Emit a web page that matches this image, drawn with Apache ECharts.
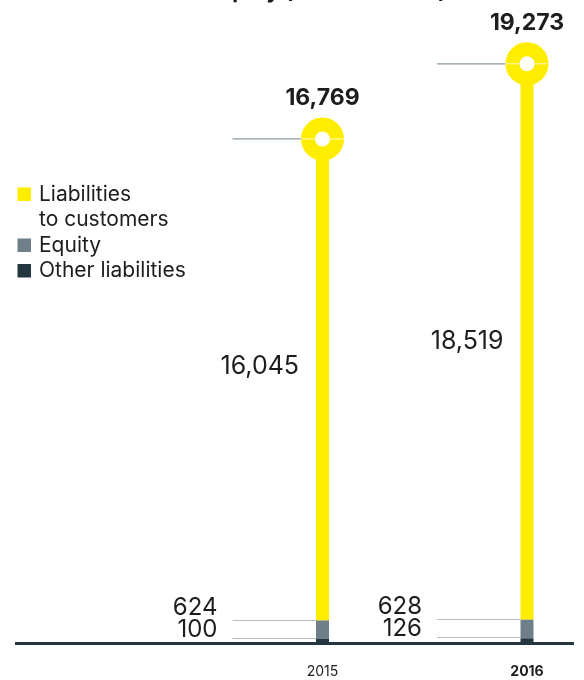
<!DOCTYPE html>
<html>
<head>
<meta charset="utf-8">
<script src="https://cdn.jsdelivr.net/npm/echarts@6/dist/echarts.min.js"></script>
<style>
  html, body { margin: 0; padding: 0; background: #ffffff; }
  #chart { width: 584px; height: 680px; }
</style>
</head>
<body>
<div id="chart"></div>
<script>
// Balance sheet structure, EUR million
const years = ['2015', '2016'];
const customerLiabilities = [16045, 18519];
const equity = [624, 628];
const otherLiabilities = [100, 126];
const totals = [16769, 19273];

const seriesNames = ['Liabilities to customers', 'Equity', 'Other liabilities'];
const legendLabels = ['Liabilities\nto customers', 'Equity', 'Other liabilities'];

const YELLOW = '#FFED00';
const GREY = '#6E7F8A';
const DARK = '#243741';
const TEXT = '#1d1d1b';
const FONT = 'Inter';

const fmt = v => v.toLocaleString('en-US');

const chart = echarts.init(document.getElementById('chart'), null, { renderer: 'canvas' });

// Legend drawn as a small block of graphics, icon aligned with the first text line
const legendColors = [YELLOW, GREY, DARK];
const legendGraphics = [];
let lineY = 194.5;
legendLabels.forEach((label, i) => {
  legendGraphics.push({
    type: 'rect',
    shape: { x: 17.5, y: lineY - 7, width: 13.5, height: 13.5 },
    style: { fill: legendColors[i] }
  });
  legendGraphics.push({
    type: 'text',
    style: {
      x: 39, y: lineY - 12.75,
      text: label,
      font: '21px ' + FONT,
      fill: TEXT,
      lineHeight: 25.5,
      verticalAlign: 'top'
    }
  });
  lineY += 25.5 * label.split('\n').length;
});

const RING = 43;          // outer diameter of the total marker
const BAR_W = 13;

chart.setOption({
  animation: false,
  textStyle: { fontFamily: FONT },
  grid: { left: 220.25, width: 409, top: 42, height: 600, containLabel: false, outerBoundsMode: 'none' },
  xAxis: {
    type: 'category',
    data: years,
    axisLine: { show: false },
    axisTick: { show: false },
    axisLabel: {
      margin: 23,
      fontSize: 14,
      color: TEXT,
      fontFamily: FONT,
      formatter: (v, i) => i === years.length - 1 ? '{b|' + v + '}' : v,
      rich: { b: { fontWeight: 'bold', fontSize: 14, color: TEXT, fontFamily: FONT } }
    }
  },
  yAxis: { type: 'value', min: 0, max: 20000, show: false },
  graphic: [
    {
      type: 'text',
      style: {
        x: 58, y: -9,
        text: 'Liabilities and equity (in EUR million)',
        font: 'bold 22px ' + FONT,
        fill: TEXT,
        verticalAlign: 'middle'
      }
    },
    {
      type: 'line',
      shape: { x1: 15, y1: 643.5, x2: 574, y2: 643.5 },
      style: { stroke: DARK, lineWidth: 3 },
      z: 10
    },
    ...legendGraphics
  ],
  series: [
    {
      name: seriesNames[2], type: 'bar', stack: 'total', barWidth: BAR_W,
      itemStyle: { color: DARK }, data: otherLiabilities
    },
    {
      name: seriesNames[1], type: 'bar', stack: 'total', barWidth: BAR_W,
      itemStyle: { color: GREY }, data: equity
    },
    {
      name: seriesNames[0], type: 'bar', stack: 'total', barWidth: BAR_W,
      itemStyle: { color: YELLOW },
      data: customerLiabilities.map((v, i) => ({
        value: v,
        label: i === 0 ? { offset: [0, -13] } : {}
      })),
      label: {
        show: true, position: 'left', distance: 17,
        fontSize: 25, color: TEXT, fontFamily: FONT,
        formatter: p => fmt(p.value)
      }
    },
    {
      // leader lines and labels for the thin segments and the totals
      name: 'leaders', type: 'custom', z: 1,
      data: years.map((y, i) => [i, otherLiabilities[i], equity[i], totals[i]]),
      renderItem: (params, api) => {
        const i = api.value(0);
        const oth = api.value(1), eq = api.value(2), tot = api.value(3);
        const pO = api.coord([i, oth]);
        const pE = api.coord([i, oth + eq]);
        const pT = api.coord([i, tot]);
        const cx = pO[0];
        const x0 = cx - 90;
        const barLeft = cx - BAR_W / 2;
        const otherLabelY = pO[1] - 9;
        const eqLabelY = Math.min(pE[1] - 9, otherLabelY - 22);
        const line = (y, x1, x2, color) => ({
          type: 'line',
          shape: { x1: x1, y1: y, x2: x2, y2: y },
          style: { stroke: color, lineWidth: 1.2 }
        });
        const label = (y, v) => ({
          type: 'text',
          style: {
            x: cx - 105, y: y, text: fmt(v),
            font: '24px ' + FONT, fill: TEXT,
            align: 'right', verticalAlign: 'middle'
          }
        });
        return {
          type: 'group',
          children: [
            line(Math.round(pO[1]) - 0.5, x0, barLeft, '#b4bfc7'),
            line(Math.round(pE[1]) + 0.5, x0, barLeft, '#b4bfc7'),
            line(pT[1], x0, cx - RING / 2, '#8d9ba5'),
            label(otherLabelY, oth),
            label(eqLabelY, eq)
          ]
        };
      }
    },
    {
      name: 'Total', type: 'scatter', z: 5,
      symbol: 'circle', symbolSize: RING - 14,
      itemStyle: { color: '#ffffff', borderColor: YELLOW, borderWidth: 14, opacity: 1 },
      data: totals,
      label: {
        show: true, position: 'inside', offset: [0, -41],
        fontSize: 23, fontWeight: 'bold', color: TEXT, fontFamily: FONT,
        formatter: p => fmt(p.value)
      }
    },
    {
      // faint hairline crossing the ring
      name: 'ringLine', type: 'custom', z: 6,
      data: totals.map((t, i) => [i, t]),
      renderItem: (params, api) => {
        const p = api.coord([api.value(0), api.value(1)]);
        return {
          type: 'line',
          shape: { x1: p[0] - RING / 2, y1: p[1], x2: p[0] + RING / 2, y2: p[1] },
          style: { stroke: 'rgba(255,255,255,0.75)', lineWidth: 1 }
        };
      }
    }
  ]
});
</script>
</body>
</html>
